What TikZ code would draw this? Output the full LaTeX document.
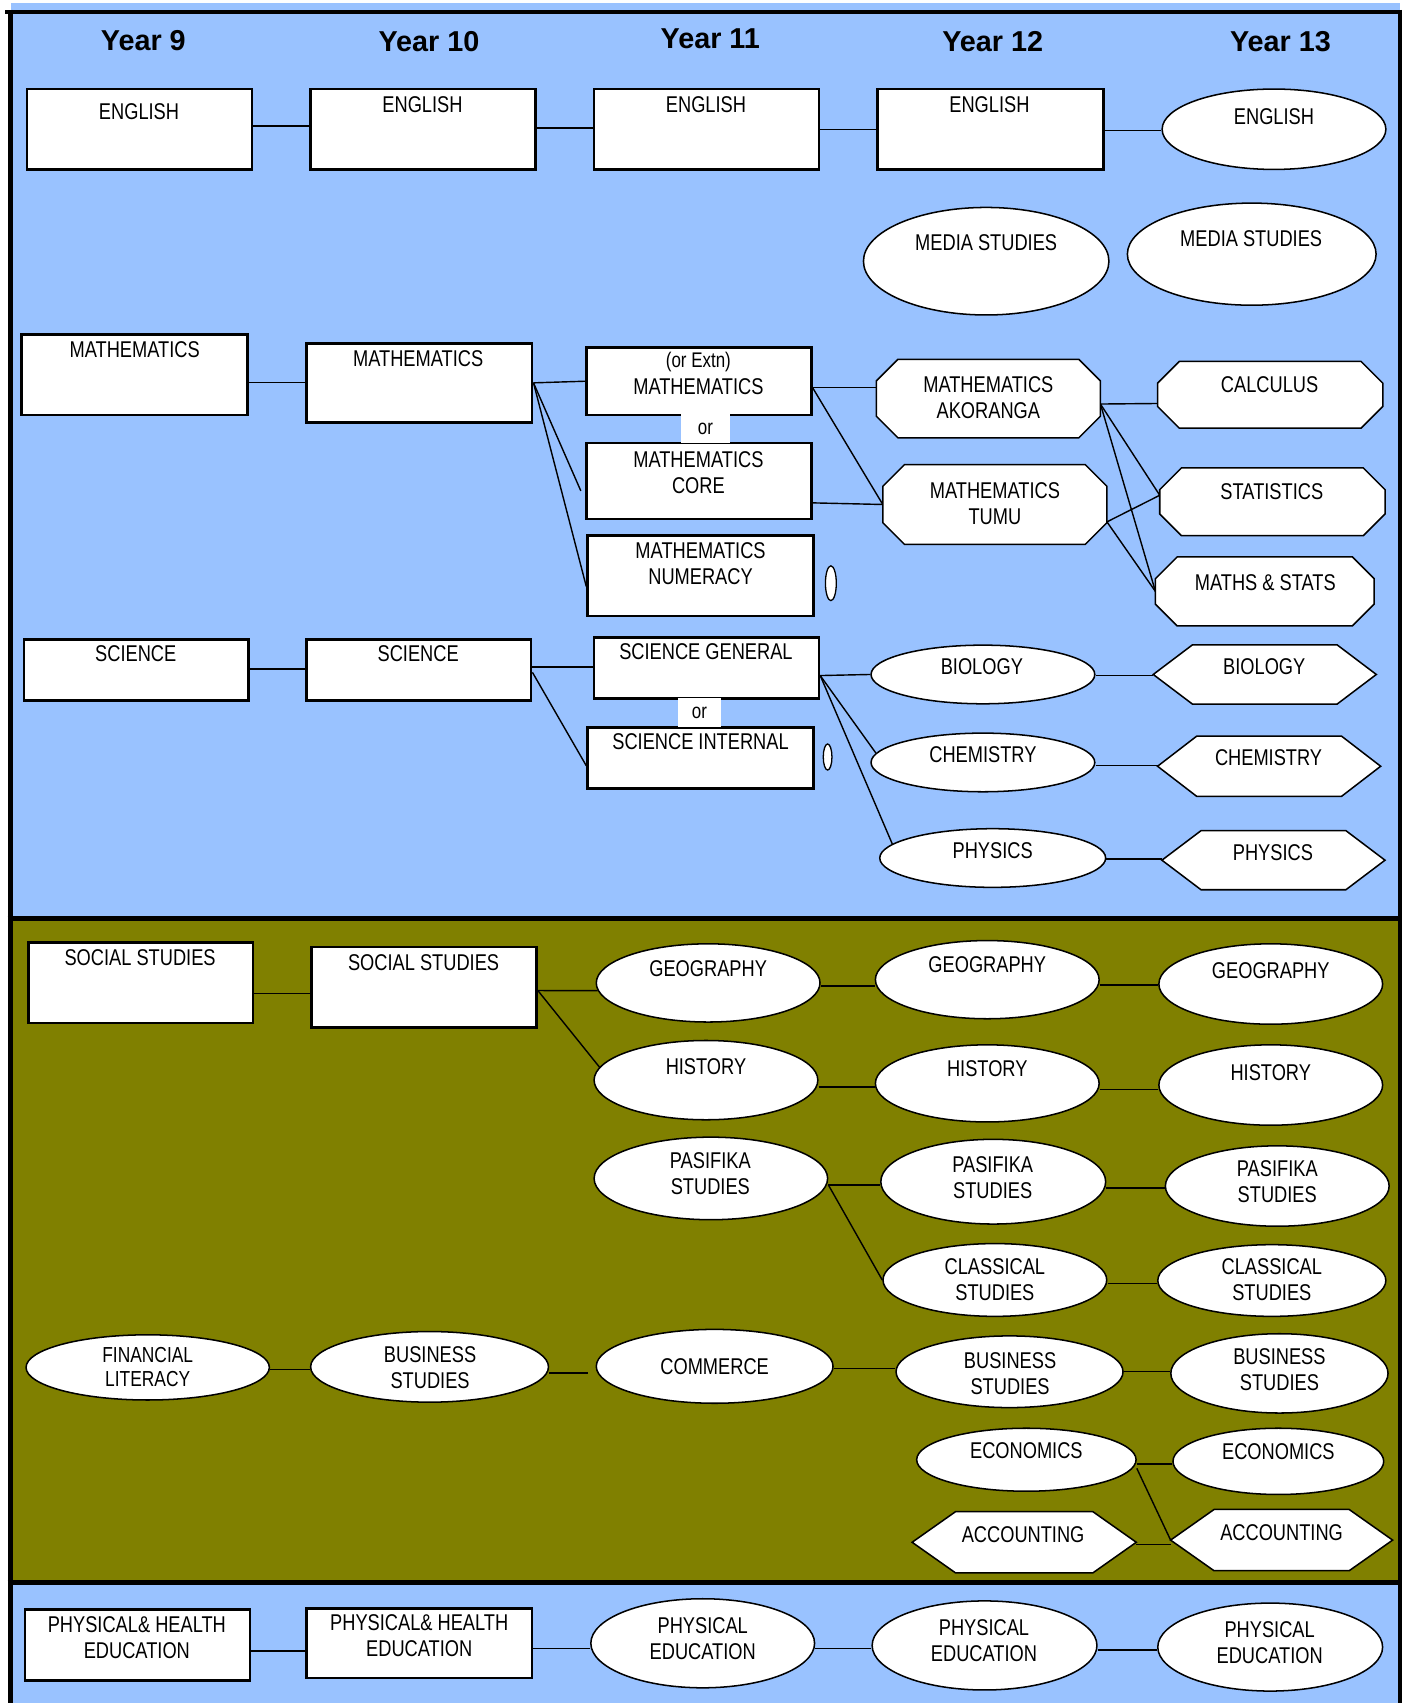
\documentclass[tikz,border=0pt]{standalone}
\usepackage{fontspec}
\setmainfont{Liberation Sans}
\newfontfamily\nar[FakeStretch=0.8]{Liberation Sans}
\usetikzlibrary{shapes.geometric}
\definecolor{bgblue}{RGB}{153,194,255}
\definecolor{myolive}{RGB}{128,128,0}
\pgfdeclarelayer{back}
\pgfdeclarelayer{lines}
\pgfsetlayers{back,lines,main}
\newcommand\octdraw[1]{\draw[shp] ([xshift=20pt]#1.north west) -- ([xshift=-20pt]#1.north east) -- ([yshift=-20pt]#1.north east) -- ([yshift=20pt]#1.south east) -- ([xshift=-20pt]#1.south east) -- ([xshift=20pt]#1.south west) -- ([yshift=20pt]#1.south west) -- ([yshift=-20pt]#1.north west) -- cycle;}
\newcommand\hexdraw[2]{\draw[shp] ([xshift=#2]#1.north west) -- ([xshift=-#2]#1.north east) -- (#1.east) -- ([xshift=-#2]#1.south east) -- ([xshift=#2]#1.south west) -- (#1.west) -- cycle;}
% horizontal connector: source node, y shift at source, target node
\newcommand\hconn[3]{\draw[conn] ([yshift=#2]#1.east) -- ([yshift=#2]#1.east -| #3.west);}
\begin{document}
\begin{tikzpicture}[x=1pt,y=-1pt,
  rbox/.style={draw, line width=2.4pt, fill=white, rectangle, inner sep=0pt},
  ell/.style={draw, line width=1.4pt, fill=white, ellipse, inner sep=0pt},
  inv/.style={rectangle, inner sep=0pt},
  shp/.style={draw, line width=1.4pt, fill=white, line join=miter},
  conn/.style={line width=1.3pt},
  txt/.style={font=\nar\fontsize{21}{24}\selectfont, align=center, inner sep=0pt},
  smalltxt/.style={font=\nar\fontsize{19.5}{22}\selectfont, inner sep=0pt},
  hdr/.style={font=\bfseries\fontsize{26.5}{30}\selectfont, inner sep=0pt},
  orbox/.style={fill=white, font=\nar\fontsize{19.5}{22}\selectfont, inner sep=0pt},
  frame/.style={line width=4.5pt}
]
\useasboundingbox (0,0) rectangle (1294,1568);
\begin{pgfonlayer}{back}
\fill[bgblue] (10,3) rectangle (1289,846);
\fill[myolive] (9,846) rectangle (1289,1457);
\fill[bgblue] (9,1457) rectangle (1289,1568);
\draw[frame] (5,11) -- (1291,11);
\draw[frame] (7,846) -- (1291,846);
\draw[frame] (7,1457) -- (1291,1457);
\draw[frame] (9.5,9) -- (9.5,1568);
\draw[frame] (1289,9) -- (1289,1568);
\end{pgfonlayer}

% headers
\node[hdr] (h9) at (132,37) {Year 9};
\node[hdr] (h10) at (395,38) {Year 10};
\node[hdr] (h11) at (654,36) {Year 11};
\node[hdr] (h12) at (914,38) {Year 12};
\node[hdr] (h13) at (1179,38) {Year 13};

% English
\node[rbox, minimum width=207pt, minimum height=74pt] (en9) at (128.5,119) {};
\node[rbox, minimum width=207pt, minimum height=74pt] (en10) at (389.5,119) {};
\node[rbox, minimum width=207pt, minimum height=74pt] (en11) at (650.5,119) {};
\node[rbox, minimum width=208pt, minimum height=74pt] (en12) at (912,119) {};
\node[ell, minimum width=206pt, minimum height=74pt] (en13) at (1173,119) {};
% Media
\node[ell, minimum width=226pt, minimum height=99pt] (ms12) at (908,240.5) {};
\node[ell, minimum width=229pt, minimum height=94pt] (ms13) at (1152.5,234) {};
% Maths
\node[rbox, minimum width=208pt, minimum height=74pt] (m9) at (124,345) {};
\node[rbox, minimum width=208pt, minimum height=73pt] (m10) at (386,352.5) {};
\node[rbox, minimum width=207pt, minimum height=62pt] (mx) at (643.5,351) {};
\node[rbox, minimum width=207pt, minimum height=70pt] (mcore) at (643.5,443) {};
\node[rbox, minimum width=208pt, minimum height=74pt] (mnum) at (645,530) {};
\node[ell, line width=1.2pt, minimum width=10pt, minimum height=32pt] (tiny1) at (765,537) {};
\node[inv, minimum width=206pt, minimum height=72pt] (mak) at (910,367) {};
\octdraw{mak}
\node[inv, minimum width=206pt, minimum height=73pt] (tumu) at (916,464.5) {};
\octdraw{tumu}
\node[inv, minimum width=207pt, minimum height=61pt] (calc) at (1169.5,363.5) {};
\octdraw{calc}
\node[inv, minimum width=207pt, minimum height=62pt] (stat) at (1171.5,462) {};
\octdraw{stat}
\node[inv, minimum width=201pt, minimum height=63pt] (mst) at (1164.5,544.5) {};
\octdraw{mst}
% Science
\node[rbox, minimum width=207pt, minimum height=56pt] (sc9) at (125.5,617) {};
\node[rbox, minimum width=207pt, minimum height=56pt] (sc10) at (385.5,617) {};
\node[rbox, minimum width=207pt, minimum height=56pt] (sg) at (650.5,615) {};
\node[rbox, minimum width=208pt, minimum height=56pt] (si) at (645,698) {};
\node[ell, line width=1.2pt, minimum width=8pt, minimum height=24pt] (tiny2) at (762,697) {};
\node[ell, minimum width=206pt, minimum height=54pt] (bio12) at (905,621) {};
\node[ell, minimum width=206pt, minimum height=54pt] (chem12) at (905,702) {};
\node[ell, minimum width=208pt, minimum height=54pt] (phys12) at (914,790) {};
\node[inv, minimum width=205pt, minimum height=54pt] (bio13) at (1164.5,621) {};
\hexdraw{bio13}{36pt}
\node[inv, minimum width=205pt, minimum height=55pt] (chem13) at (1168.5,705.5) {};
\hexdraw{chem13}{36pt}
\node[inv, minimum width=205pt, minimum height=54pt] (phys13) at (1172.5,792) {};
\hexdraw{phys13}{36pt}
% Social
\node[rbox, minimum width=207pt, minimum height=74pt] (ss9) at (129.5,905) {};
\node[rbox, minimum width=207pt, minimum height=74pt] (ss10) at (390.5,909) {};
\node[ell, minimum width=206pt, minimum height=72pt] (geo11) at (652,905) {};
\node[ell, minimum width=206pt, minimum height=73pt] (hist11) at (650,994.5) {};
\node[ell, minimum width=215pt, minimum height=76pt] (pas11) at (654.5,1085) {};
\node[ell, minimum width=206pt, minimum height=72pt] (geo12) at (909,902) {};
\node[ell, minimum width=206pt, minimum height=71pt] (hist12) at (909,997.5) {};
\node[ell, minimum width=207pt, minimum height=78pt] (pas12) at (914.5,1088) {};
\node[ell, minimum width=206pt, minimum height=67pt] (cls12) at (916,1178.5) {};
\node[ell, minimum width=206pt, minimum height=74pt] (geo13) at (1170,906) {};
\node[ell, minimum width=206pt, minimum height=74pt] (hist13) at (1170,999) {};
\node[ell, minimum width=206pt, minimum height=74pt] (pas13) at (1176,1092) {};
\node[ell, minimum width=210pt, minimum height=66pt] (cls13) at (1171,1179) {};
% Business
\node[ell, minimum width=224pt, minimum height=60pt] (fin9) at (136,1259) {};
\node[ell, minimum width=219pt, minimum height=65pt] (bus10) at (395.5,1258.5) {};
\node[ell, minimum width=218pt, minimum height=68pt] (comm) at (658,1258) {};
\node[ell, minimum width=209pt, minimum height=66pt] (bus12) at (929.5,1263) {};
\node[ell, minimum width=200pt, minimum height=73pt] (bus13) at (1178,1264.5) {};
\node[ell, minimum width=202pt, minimum height=58pt] (eco12) at (945,1344) {};
\node[ell, minimum width=194pt, minimum height=61pt] (eco13) at (1177,1345.5) {};
\node[inv, minimum width=206pt, minimum height=56pt] (acc12) at (943,1420) {};
\hexdraw{acc12}{40pt}
\node[inv, minimum width=204pt, minimum height=56pt] (acc13) at (1180,1418) {};
\hexdraw{acc13}{40pt}
% PE
\node[rbox, minimum width=207pt, minimum height=65pt] (pe9) at (126.5,1514.5) {};
\node[rbox, minimum width=208pt, minimum height=64pt] (pe10) at (386,1513) {};
\node[ell, minimum width=206pt, minimum height=82pt] (pe11) at (647,1513) {};
\node[ell, minimum width=207pt, minimum height=82pt] (pe12) at (906.5,1515) {};
\node[ell, minimum width=207pt, minimum height=81pt] (pe13) at (1169.5,1516.5) {};

% connectors
\begin{pgfonlayer}{lines}
\hconn{en9}{3pt}{en10}
\hconn{en10}{1pt}{en11}
\hconn{en11}{0pt}{en12}
\hconn{en12}{-1pt}{en13}
\hconn{m9}{-7pt}{m10}
\draw[conn] (m10.east) -- (mx.west);
\draw[conn] (m10.east) -- ([xshift=-4pt,yshift=-9pt]mcore.west);
\draw[conn] (m10.east) -- ([yshift=-10pt]mnum.west);
\draw[conn] ([yshift=-6pt]mx.east) -- ([yshift=10pt]mak.west);
\draw[conn] ([yshift=-6pt]mx.east) -- (tumu.west);
\draw[conn] ([yshift=-20pt]mcore.east) -- (tumu.west);
\draw[conn] ([yshift=-5pt]mak.east) -- ([yshift=-8pt]calc.west);
\draw[conn] ([yshift=-5pt]mak.east) -- ([yshift=6pt]stat.west);
\draw[conn] ([yshift=-5pt]mak.east) -- (mst.west);
\draw[conn] ([yshift=-16pt]tumu.east) -- ([yshift=6pt]stat.west);
\draw[conn] ([yshift=-16pt]tumu.east) -- (mst.west);
\hconn{sc9}{1pt}{sc10}
\draw[conn] ([yshift=3pt]sc10.east) -- ([yshift=1pt]sg.west);
\draw[conn] ([yshift=-2pt]sc10.east) -- ([yshift=-7pt]si.west);
\draw[conn] ([yshift=-7pt]sg.east) -- (bio12.west);
\draw[conn] ([yshift=-7pt]sg.east) -- (chem12.175);
\draw[conn] ([yshift=-7pt]sg.east) -- (phys12.172);
\hconn{bio12}{-1pt}{bio13}
\hconn{chem12}{-3pt}{chem13}
\hconn{phys12}{-1pt}{phys13}
\hconn{ss9}{-10pt}{ss10}
\draw[conn] ([yshift=-3pt]ss10.east) -- (geo11.184);
\draw[conn] ([yshift=-3pt]ss10.east) -- (hist11.173);
\hconn{geo11}{-3pt}{geo12}
\hconn{hist11}{-6.5pt}{hist12}
\hconn{pas11}{-6pt}{pas12}
\draw[conn] ([yshift=-6pt]pas11.east) -- (cls12.west);
\hconn{geo12}{-5pt}{geo13}
\hconn{hist12}{-5.5pt}{hist13}
\hconn{pas12}{-6pt}{pas13}
\hconn{cls12}{-3.5pt}{cls13}
\hconn{fin9}{-2pt}{bus10}
\draw[conn] ([yshift=-5.5pt]bus10.east) -- ([yshift=-5.5pt,xshift=-7pt]bus10.east -| comm.west);
\hconn{comm}{-2pt}{bus12}
\hconn{bus12}{0pt}{bus13}
\hconn{eco12}{-4pt}{eco13}
\draw[conn] ([yshift=-8pt]eco12.east) -- (acc13.west);
\hconn{acc12}{-2pt}{acc13}
\hconn{pe9}{-5.5pt}{pe10}
\hconn{pe10}{-5pt}{pe11}
\hconn{pe11}{-5pt}{pe12}
\hconn{pe12}{-4pt}{pe13}
\end{pgfonlayer}

% "or" labels
\node[orbox, minimum width=45pt, minimum height=27pt] (or1) at (649.5,394.5) {or};
\node[orbox, minimum width=40pt, minimum height=26pt] (or2) at (644,656) {or};

% texts
\node[txt] (en9t) at (128,103) {ENGLISH};
\node[txt] (en10t) at (389,96) {ENGLISH};
\node[txt] (en11t) at (650,96) {ENGLISH};
\node[txt] (en12t) at (911,96) {ENGLISH};
\node[txt] (en13t) at (1173,107) {ENGLISH};
\node[txt] (ms12t) at (908,223) {MEDIA STUDIES};
\node[txt] (ms13t) at (1152,220) {MEDIA STUDIES};
\node[txt] (m9t) at (124,322) {MATHEMATICS};
\node[txt] (m10t) at (385,330) {MATHEMATICS};
\node[smalltxt] (mxa) at (643,333) {(or Extn)};
\node[txt] (mxt) at (643,356) {MATHEMATICS};
\node[txt] (mcoret) at (643,435) {MATHEMATICS\\CORE};
\node[txt] (mnumt) at (645,519) {MATHEMATICS\\NUMERACY};
\node[txt] (makt) at (910,366) {MATHEMATICS\\AKORANGA};
\node[txt] (tumut) at (916,464) {MATHEMATICS\\TUMU};
\node[txt] (calct) at (1169,354) {CALCULUS};
\node[txt] (statt) at (1171,453) {STATISTICS};
\node[txt] (mstt) at (1165,536) {MATHS \& STATS};
\node[txt] (sc9t) at (125,602) {SCIENCE};
\node[txt] (sc10t) at (385,602) {SCIENCE};
\node[txt] (sgt) at (650,600) {SCIENCE GENERAL};
\node[txt] (sit) at (645,683) {SCIENCE INTERNAL};
\node[txt] (bio12t) at (904,614) {BIOLOGY};
\node[txt] (chem12t) at (905,695) {CHEMISTRY};
\node[txt] (phys12t) at (914,783) {PHYSICS};
\node[txt] (bio13t) at (1164,614) {BIOLOGY};
\node[txt] (chem13t) at (1168,698) {CHEMISTRY};
\node[txt] (phys13t) at (1172,785) {PHYSICS};
\node[txt] (ss9t) at (129,882) {SOCIAL STUDIES};
\node[txt] (ss10t) at (390,886) {SOCIAL STUDIES};
\node[txt] (geo11t) at (652,892) {GEOGRAPHY};
\node[txt] (hist11t) at (650,982) {HISTORY};
\node[txt] (pas11t) at (654,1081) {PASIFIKA\\STUDIES};
\node[txt] (geo12t) at (909,888) {GEOGRAPHY};
\node[txt] (hist12t) at (909,984) {HISTORY};
\node[txt] (pas12t) at (914,1084) {PASIFIKA\\STUDIES};
\node[txt] (cls12t) at (916,1178) {CLASSICAL\\STUDIES};
\node[txt] (geo13t) at (1170,894) {GEOGRAPHY};
\node[txt] (hist13t) at (1170,988) {HISTORY};
\node[txt] (pas13t) at (1176,1088) {PASIFIKA\\STUDIES};
\node[txt] (cls13t) at (1171,1178) {CLASSICAL\\STUDIES};
\node[txt, font=\nar\fontsize{20}{22}\selectfont] (fin9t) at (136,1259) {FINANCIAL\\LITERACY};
\node[txt] (bus10t) at (396,1259) {BUSINESS\\STUDIES};
\node[txt] (commt) at (658,1258) {COMMERCE};
\node[txt] (bus12t) at (930,1265) {BUSINESS\\STUDIES};
\node[txt] (bus13t) at (1178,1261) {BUSINESS\\STUDIES};
\node[txt] (eco12t) at (945,1336) {ECONOMICS};
\node[txt] (eco13t) at (1177,1337) {ECONOMICS};
\node[txt] (acc12t) at (942,1413) {ACCOUNTING};
\node[txt] (acc13t) at (1180,1411) {ACCOUNTING};
\node[txt] (pe9t) at (126,1508) {PHYSICAL\& HEALTH\\EDUCATION};
\node[txt] (pe10t) at (386,1506) {PHYSICAL\& HEALTH\\EDUCATION};
\node[txt] (pe11t) at (647,1509) {PHYSICAL\\EDUCATION};
\node[txt] (pe12t) at (906,1511) {PHYSICAL\\EDUCATION};
\node[txt] (pe13t) at (1169,1512) {PHYSICAL\\EDUCATION};
\end{tikzpicture}
\end{document}
